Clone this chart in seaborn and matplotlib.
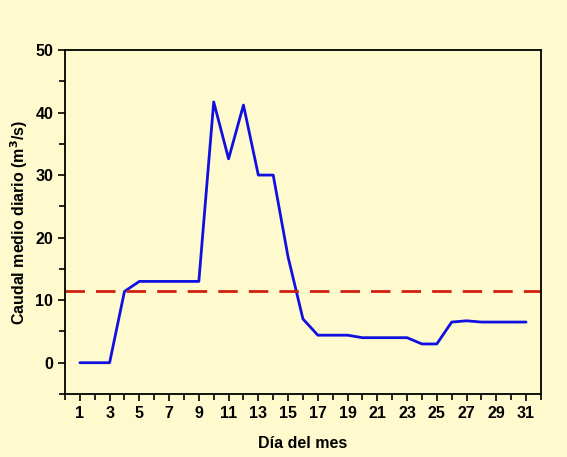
import matplotlib.pyplot as plt
import matplotlib.ticker as mticker
import pandas as pd
import seaborn as sns

days = list(range(1, 32))
flow = [0, 0, 0, 11.4, 13, 13, 13, 13, 13, 41.7, 32.6, 41.2, 30, 30, 16.9, 7.0,
        4.4, 4.4, 4.4, 4.0, 4.0, 4.0, 4.0, 3.0, 3.0, 6.5, 6.7, 6.5, 6.5, 6.5, 6.5]
mean_flow = 11.4

BG = '#FFFACD'

sns.set_theme(style="white")
plt.rcParams['font.family'] = ['Liberation Sans', 'DejaVu Sans']

df = pd.DataFrame({'Día del mes': days, 'Caudal': flow})

fig = plt.figure(figsize=(5.67, 4.57), dpi=100, facecolor=BG)
ax = fig.add_axes([0.1146, 0.1379, 0.8394, 0.7527])
ax.set_facecolor(BG)

sns.lineplot(data=df, x='Día del mes', y='Caudal', color='#1010E0', linewidth=2, ax=ax)
ax.axhline(mean_flow, color='#D02010', linestyle=(0, (7, 4)), linewidth=2)

ax.set_xlim(0, 32)
ax.set_ylim(-5, 50)
ax.xaxis.set_major_locator(mticker.FixedLocator(days[::2]))
ax.xaxis.set_minor_locator(mticker.MultipleLocator(1))
ax.yaxis.set_major_locator(mticker.MultipleLocator(10))
ax.yaxis.set_minor_locator(mticker.MultipleLocator(5))

ax.tick_params(axis='both', which='both', direction='out', left=True, bottom=True,
               colors='black', labelsize=11.5)
ax.tick_params(axis='both', which='major', length=5, width=1.2)
ax.tick_params(axis='both', which='minor', length=4, width=1.2)
for lbl in ax.get_xticklabels() + ax.get_yticklabels():
    lbl.set_fontweight('bold')

for s in ax.spines.values():
    s.set_color('black')
    s.set_linewidth(1.3)

ax.set_xlabel('Día del mes', fontsize=11.5, fontweight='bold', color='black', labelpad=11)
ax.set_ylabel('Caudal medio diario (m$^{\\mathbf{3}}$/s)', fontsize=11.5, fontweight='bold',
              color='black', labelpad=4)

fig.savefig('out.png', dpi=100, facecolor=BG)
